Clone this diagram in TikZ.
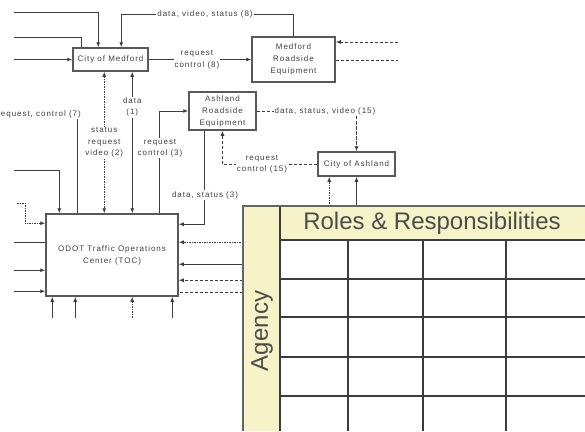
\documentclass[tikz,border=0pt]{standalone}
\usepackage{fontspec}
\setmainfont{Liberation Sans}
\newfontfamily\lblfont[LetterSpace=12]{Liberation Sans}
\usepackage{xcolor}
\usetikzlibrary{arrows.meta,positioning,calc}
\definecolor{rolefill}{RGB}{247,243,200}
\definecolor{linegray}{RGB}{60,60,60}

\begin{document}
\begin{tikzpicture}[x=1pt, y=-1pt,
    agencybox/.style={rectangle, draw=black!65, line width=1.5pt, fill=white, text=black!75, font=\lblfont\fontsize{8}{12}\selectfont, align=center, inner sep=1pt},
    tag/.style={fill=white, text=black!75, font=\lblfont\fontsize{8}{11.5}\selectfont, align=center, inner sep=1pt},
    flow/.style={linegray, line width=0.9pt},
    arrow/.style={flow, -{Latex[length=5pt, width=4pt]}},
    twoway/.style={flow, {Latex[length=5pt, width=4pt]}-{Latex[length=5pt, width=4pt]}},
    dotflow/.style={flow, dash pattern=on 1.5pt off 1pt},
    dotarrow/.style={dotflow, -{Latex[length=5pt, width=4pt]}},
    dashflow/.style={flow, dash pattern=on 3pt off 2pt},
    dasharrow/.style={dashflow, -{Latex[length=5pt, width=4pt]}},
    grid/.style={draw=linegray, line width=1.4pt},
    rolehead/.style={text=black!70, font=\fontsize{24}{28}\selectfont, inner sep=0pt}
]
    \useasboundingbox (0,0) rectangle (585,431);

    \node[agencybox, minimum width=75pt, minimum height=23pt] (med) at (110.5, 59.5) {City of Medford};
    \node[agencybox, minimum width=83pt, minimum height=45pt] (mre) at (293.5, 59.5) {Medford\\Roadside\\Equipment};
    \node[agencybox, minimum width=67pt, minimum height=38pt] (are) at (222.5, 111) {Ashland\\Roadside\\Equipment};
    \node[agencybox, minimum width=77pt, minimum height=24pt] (cas) at (356.5, 164) {City of Ashland};
    \node[agencybox, minimum width=132pt, minimum height=82pt] (toc) at (112, 255) {ODOT Traffic Operations\\Center (TOC)};

    % free ends at the left and right edges
    \coordinate (wA) at (14, 12);
    \coordinate (wB) at (14, 37);
    \coordinate (wC) at (14, 59.5);
    \coordinate (wD) at (14, 170);
    \coordinate (wE) at (17, 203);
    \coordinate (wF) at (14, 0);
    \coordinate (eA) at (398, 42);
    \coordinate (eB) at (398, 60);
    \coordinate (tabNW) at (243, 206);

    % feeds into City of Medford
    \draw[arrow] (wA) -| ($(med.north west)+(26,0)$);
    \draw[flow] (wB) -| ($(med.north west)+(9,0)$);
    \draw[arrow] (wC) -- (med.west);
    \coordinate (dvsmid) at (205, 14);
    \draw[arrow] (mre.north) |- (dvsmid) -| ($(med.north west)+(49,0)$);
    \draw[arrow] (med.east) -- (mre.west);
    \draw[dasharrow] (eA) -- (eA -| mre.east);
    \draw[dashflow] (eB -| mre.east) -- (eB);

    % Medford to TOC
    \coordinate (m2) at ($(med.south west)+(32,0)$);
    \coordinate (m1) at ($(med.south west)+(60,0)$);
    \draw[dotflow, {Latex[length=5pt, width=4pt]}-{Latex[length=5pt, width=4pt]}] (m2) -- (m2 |- toc.north);
    \draw[twoway] (m1) -- (m1 |- toc.north);

    % top of TOC
    \draw[arrow] (wD) -| ($(toc.north west)+(14,0)$);
    \coordinate (t78) at ($(toc.north west)+(32,0)$);
    \node[tag, anchor=south east] (rc7) at (82, 119) {request, control (7)};
    \draw[flow] (t78 |- rc7.south) -- (t78);
    \draw[arrow] ($(toc.north west)+(114,0)$) |- (are.west);
    \draw[arrow] ($(are.south west)+(16,0)$) |- ($(toc.north east)+(0,11)$);

    % west side of TOC
    \draw[dotarrow] (wE) -- ++(8,0) |- ($(toc.north west)+(0,10)$);
    \foreach \dy/\sty in {29/flow, 57/arrow, 78/arrow} {
        \coordinate (p) at ($(toc.north west)+(0,\dy)$);
        \draw[\sty] (wF |- p) -- (p);
    }

    % east side of TOC, from the table
    \coordinate (tabE) at (tabNW |- toc.north east);
    \foreach \dy/\sty in {29/dotarrow, 51/arrow, 67/dasharrow, 79/dashflow} {
        \draw[\sty] ($(tabE)+(0,\dy)$) -- ($(toc.north east)+(0,\dy)$);
    }

    % bottom of TOC
    \foreach \dx/\sty in {7/arrow, 30/arrow, 87/dotarrow, 127/arrow} {
        \coordinate (q) at ($(toc.south west)+(\dx,0)$);
        \draw[\sty] ($(q)+(0,21)$) -- (q);
    }

    % Ashland
    \draw[dashflow] (are.east) -| (cas.north);
    \draw[dotarrow] ($(cas.north)+(0,-30)$) -- (cas.north);
    \draw[dasharrow] (cas.west) -| (are.south);
    \coordinate (casB) at ($(cas.south west)+(12,0)$);
    \draw[dotarrow] (casB |- tabNW) -- (casB);
    \draw[arrow] (cas.south |- tabNW) -- (cas.south);

    % labels on the connectors
    \node[tag] (dvs) at (dvsmid) {data, video, status (8)};
    \node[tag] (rc8) at ($(med.east)!0.47!(mre.west)$) {request\\control (8)};
    \node[tag] (srv) at ($(m2)!0.5!(m2 |- toc.north)$) {status\\request\\video (2)};
    \node[tag] (d1) at ($(m1)!0.25!(m1 |- toc.north)$) {data\\(1)};
    \node[tag] (rc3) at (160, 148) {request\\control (3)};
    \node[tag] (ds3) at (205, 195) {data, status (3)};
    \node[tag] (dsv) at (325, 111) {data, status, video (15)};
    \node[tag] (rc15) at (262, 164) {request\\control (15)};

    % Roles & Responsibilities table
    \fill[white] (tabNW) rectangle (585, 431);
    \fill[rolefill] (tabNW) rectangle (280, 431);
    \fill[rolefill] (280, 206) rectangle (585, 240);
    \foreach \y in {279, 317, 357, 396} {
        \draw[grid] (280, \y) -- (585, \y);
    }
    \foreach \x in {348, 423, 506} {
        \draw[grid] (\x, 240) -- (\x, 431);
    }
    \draw[grid] (280, 240) -- (585, 240);
    \draw[grid] (280, 206) -- (280, 431);
    \draw[draw=black!60, line width=2pt] (585, 206) -- (tabNW) -- (243, 431);
    \node[rolehead] (roles) at (432, 223) {Roles \& Responsibilities};
    \node[rolehead, rotate=90] (agency) at (262, 331) {Agency};

\end{tikzpicture}
\end{document}
